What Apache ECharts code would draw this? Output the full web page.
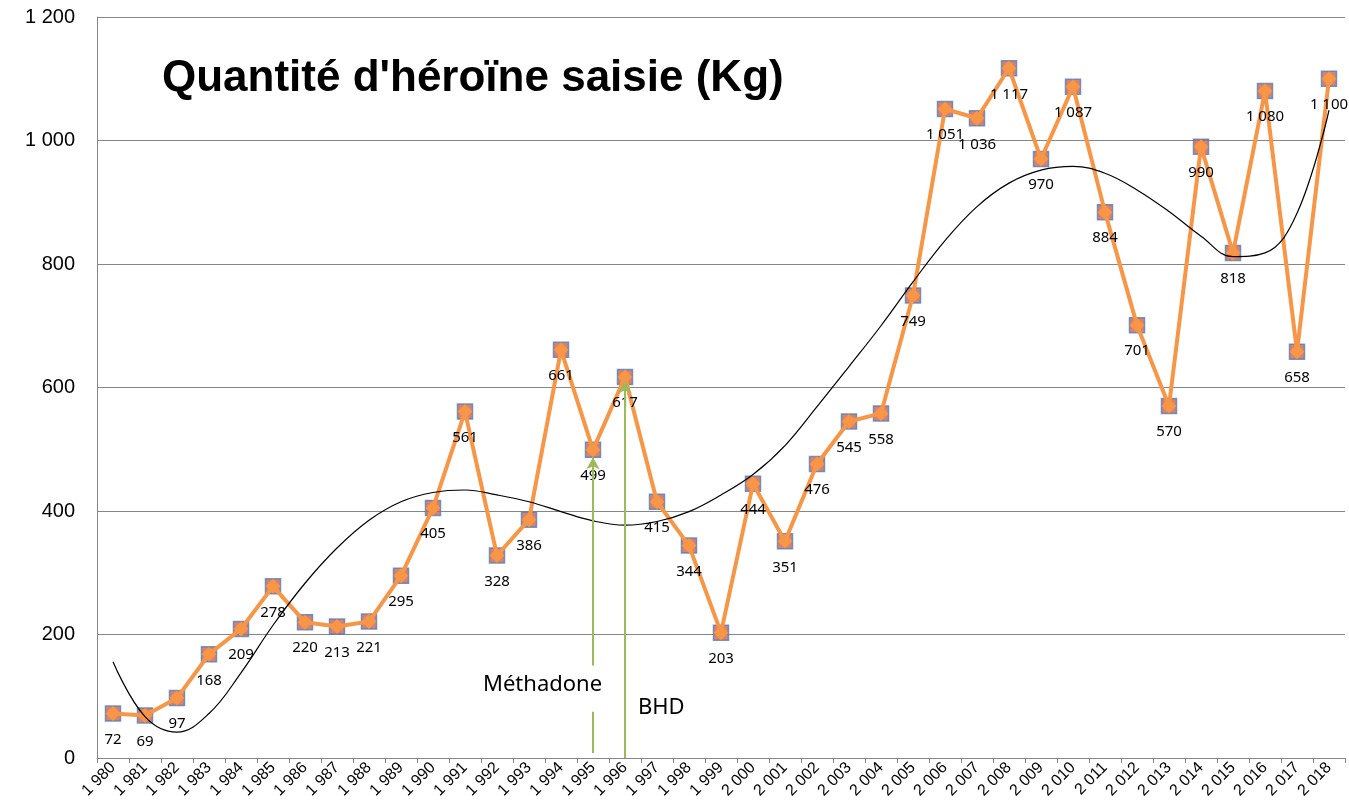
<!DOCTYPE html>
<html>
<head>
<meta charset="utf-8">
<script src="https://cdn.jsdelivr.net/npm/echarts@6/dist/echarts.min.js"></script>
<style>
  html, body { margin: 0; padding: 0; background: #fff; }
  #main { width: 1349px; height: 812px; }
</style>
</head>
<body>
<div id="main"></div>
<script>
// heroin seized per year (kg)
var years = [1980,1981,1982,1983,1984,1985,1986,1987,1988,1989,1990,1991,1992,1993,1994,1995,1996,1997,1998,1999,
             2000,2001,2002,2003,2004,2005,2006,2007,2008,2009,2010,2011,2012,2013,2014,2015,2016,2017,2018];
var seized = [72,69,97,168,209,278,220,213,221,295,405,561,328,386,661,499,617,415,344,203,
              444,351,476,545,558,749,1051,1036,1117,970,1087,884,701,570,990,818,1080,658,1100];
// trend curve at each year
var trend = [156,67,42,72,138,215,283,340,385,415,430,434,426,415,399,384,377,383,399,426,
             459,506,569,634,700,771,838,893,931,952,958,947,920,885,845,812,818,882,1049];

function fmt(v){
  v = Math.round(v);
  if(v >= 1000){
    var s = String(v);
    return s.slice(0, s.length-3) + ' ' + s.slice(s.length-3);
  }
  return String(v);
}
var categories = years.map(fmt);

var myChart = echarts.init(document.getElementById('main'));
var green = '#9bbb59';
var option = {
  animation: false,
  grid: {
    left: 97,
    right: 4,
    top: 17,
    bottom: 54,
    containLabel: false
  },
  title: {
    text: "Quantité d'héroïne saisie (Kg)",
    left: 157,
    top: 52,
    textStyle: {
      fontFamily: 'Liberation Sans',
      fontWeight: 'bold',
      fontSize: 44,
      color: '#000'
    }
  },
  xAxis: {
    type: 'category',
    data: categories,
    boundaryGap: true,
    axisLine: { lineStyle: { color: '#868686', width: 1 } },
    axisTick: { show: true, length: 5, alignWithLabel: false, lineStyle: { color: '#868686' } },
    axisLabel: {
      interval: 0,
      rotate: 45,
      margin: 7,
      fontFamily: 'Liberation Sans',
      fontSize: 16,
      color: '#000'
    }
  },
  yAxis: {
    type: 'value',
    min: 0,
    max: 1200,
    interval: 200,
    axisLine: { show: true, lineStyle: { color: '#868686', width: 1 } },
    axisTick: { show: false },
    splitLine: { lineStyle: { color: '#868686', width: 1 } },
    axisLabel: {
      margin: 22,
      fontFamily: 'Liberation Sans',
      fontSize: 20,
      color: '#000',
      formatter: fmt
    }
  },
  series: [
    {
      name: 'squares',
      type: 'scatter',
      data: seized,
      symbol: 'rect',
      symbolSize: 15,
      z: 2,
      itemStyle: { color: '#d0604a', borderColor: '#4f81bd', borderWidth: 1.5 }
    },
    {
      name: 'Quantité',
      type: 'line',
      data: seized,
      z: 3,
      symbol: 'diamond',
      symbolSize: 15,
      lineStyle: { color: '#f79646', width: 4 },
      itemStyle: { color: '#f79646' },
      label: {
        show: true,
        position: 'bottom',
        distance: 11,
        fontFamily: 'Noto Sans',
        fontSize: 15,
        color: '#000',
        formatter: function(p){ return fmt(p.value); }
      },
      markLine: {
        silent: true,
        symbol: ['none', 'arrow'],
        symbolSize: [10, 12],
        lineStyle: { color: green, width: 2, type: 'solid' },
        label: { show: false },
        data: [
          [{ coord: ['1 995', 8], symbol: 'none' }, { coord: ['1 995', 75], symbol: 'none' }],
          [{ coord: ['1 995', 150], symbol: 'none' }, { coord: ['1 995', 487] }],
          [{ coord: ['1 996', 0], symbol: 'none' }, { coord: ['1 996', 610] }]
        ]
      }
    },
    {
      name: 'Tendance',
      type: 'line',
      data: trend,
      smooth: 0.4,
      z: 4,
      symbol: 'none',
      lineStyle: { color: '#000', width: 1.2 }
    }
  ],
  graphic: [
    {
      type: 'text',
      left: 483,
      top: 674,
      style: { text: 'Méthadone', fontFamily: 'Noto Sans', fontSize: 22, fill: '#000' }
    },
    {
      type: 'text',
      left: 638,
      top: 697,
      style: { text: 'BHD', fontFamily: 'Noto Sans', fontSize: 22, fill: '#000' }
    }
  ]
};
myChart.setOption(option);
</script>
</body>
</html>
